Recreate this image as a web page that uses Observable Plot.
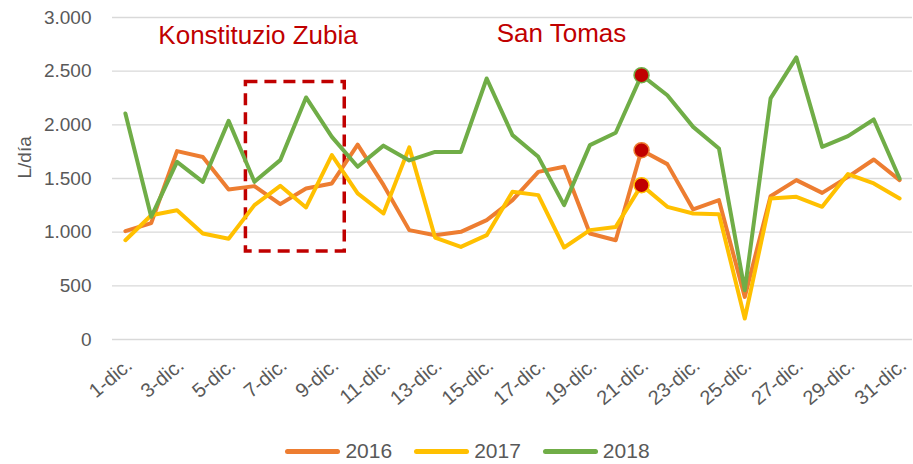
<!DOCTYPE html>
<html>
<head>
<meta charset="utf-8">
<script src="https://cdn.jsdelivr.net/npm/d3@7"></script>
<script src="https://cdn.jsdelivr.net/npm/@observablehq/plot@0.6"></script>
<style>
  body { margin: 0; background: #fff; font-family: "Liberation Sans", Arial, sans-serif; }
  #legend { display: flex; justify-content: center; align-items: center; height: 26px; padding-top: 13px; padding-left: 22px; }
  .item { display: flex; align-items: center; margin: 0 11px; }
  .sw { width: 55px; height: 5px; border-radius: 3px; margin-right: 5px; }
  .lab { font-size: 21px; color: #595959; }
</style>
</head>
<body>
<div id="chart"></div>
<div id="legend"></div>
<script>
const days = [1,2,3,4,5,6,7,8,9,10,11,12,13,14,15,16,17,18,19,20,21,22,23,24,25,26,27,28,29,30,31];
const v2016 = [1010,1085,1755,1700,1398,1429,1261,1407,1454,1815,1440,1019,972,1003,1112,1298,1562,1609,988,925,1764,1634,1212,1298,397,1335,1485,1366,1515,1677,1485];
const v2017 = [925,1158,1205,988,938,1252,1432,1230,1718,1361,1174,1790,950,863,972,1376,1345,857,1019,1049,1438,1236,1174,1168,196,1314,1329,1236,1541,1454,1314];
const v2018 = [2106,1143,1655,1469,2037,1469,1671,2255,1888,1609,1806,1668,1748,1748,2432,1904,1702,1252,1811,1926,2463,2276,1981,1780,459,2246,2628,1795,1895,2050,1500];
const seriesNames = ["2016", "2017", "2018"];
const seriesColors = ["#ED7D31", "#FFC000", "#70AD47"];
const xTicks = [1,3,5,7,9,11,13,15,17,19,21,23,25,27,29,31];
const yTicks = [0,500,1000,1500,2000,2500,3000];
const highlightDay = 21;
const notes = [
  {label: "Konstituzio Zubia", day: 6.14, value: 2752},
  {label: "San Tomas", day: 17.9, value: 2771}
];
const box = {x1: 5.67, x2: 9.5, y1: 820, y2: 2400};

const allSeries = [v2016, v2017, v2018];
const rows = [];
allSeries.forEach((vals, s) => vals.forEach((v, i) => rows.push({day: days[i], value: v, year: seriesNames[s]})));
const hl = rows.filter(d => d.day === highlightDay);
const fmt = d3.formatLocale({decimal: ",", thousands: ".", grouping: [3], currency: ["", ""]}).format(",d");

const chart = Plot.plot({
  width: 913,
  height: 425,
  marginTop: 17,
  marginBottom: 86,
  marginLeft: 112,
  marginRight: 1,
  style: {fontFamily: "'Liberation Sans', Arial, sans-serif", color: "#595959", background: "#fff"},
  x: {domain: [0.5, 31.5]},
  y: {domain: [0, 3000]},
  color: {domain: seriesNames, range: seriesColors},
  marks: [
    Plot.ruleY(yTicks, {stroke: "#d9d9d9", strokeWidth: 1.3}),
    Plot.axisY({ticks: yTicks, tickFormat: fmt, tickSize: 0, tickPadding: 21, fontSize: 19, label: null}),
    Plot.axisX({ticks: xTicks, tickFormat: d => d + "-dic.", tickRotate: -40, tickSize: 0, tickPadding: 23, dx: 4, fontSize: 20, label: null}),
    Plot.text(["L/día"], {frameAnchor: "left", dx: -88, rotate: -90, fontSize: 19, fill: "#595959"}),
    Plot.rect([box], {x1: "x1", x2: "x2", y1: "y1", y2: "y2", fill: "none", stroke: "#C00000", strokeWidth: 3.5, strokeDasharray: "12,7"}),
    Plot.line(rows, {x: "day", y: "value", z: "year", stroke: "year", strokeWidth: 4, strokeLinejoin: "round", strokeLinecap: "round"}),
    Plot.dot(hl, {x: "day", y: "value", r: 7.5, fill: "#C00000", stroke: "year", strokeWidth: 1.5}),
    Plot.text(notes, {x: "day", y: "value", text: "label", fill: "#C00000", fontSize: 26, lineAnchor: "bottom", textAnchor: "middle"})
  ]
});
document.getElementById("chart").appendChild(chart);

const legend = document.getElementById("legend");
seriesNames.forEach((n, i) => {
  const it = document.createElement("div");
  it.className = "item";
  it.innerHTML = `<div class="sw" style="background:${seriesColors[i]}"></div><span class="lab">${n}</span>`;
  legend.appendChild(it);
});
</script>
</body>
</html>
